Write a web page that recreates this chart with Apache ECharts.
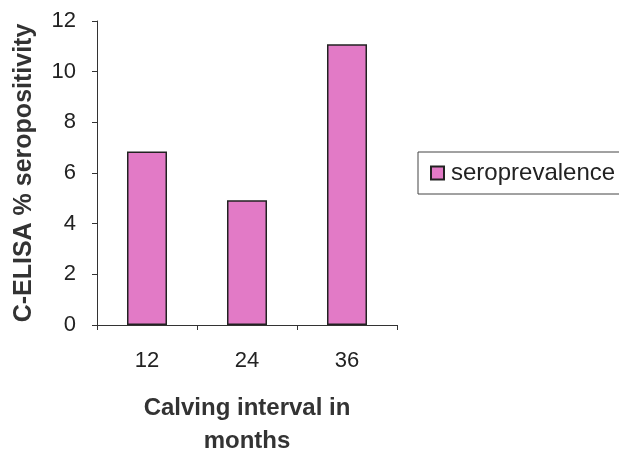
<!DOCTYPE html>
<html>
<head>
<meta charset="utf-8">
<script src="https://cdn.jsdelivr.net/npm/echarts@6/dist/echarts.min.js"></script>
<style>html,body{margin:0;padding:0;background:#fff;}#c{width:619px;height:449px;}</style>
</head>
<body>
<div id="c"></div>
<script>
var categories = ['12', '24', '36'];
var seroprevalence = [6.85, 4.92, 11.08];
var seriesName = 'seroprevalence';
var yAxisTitle = 'C-ELISA % seropositivity';
var xAxisTitle = 'Calving interval in\nmonths';

var chart = echarts.init(document.getElementById('c'));
var txt = '#222';
chart.setOption({
  animation: false,
  backgroundColor: '#fff',
  grid: { left: 97, top: 21, right: 222, bottom: 124, containLabel: false, outerBoundsMode: 'none' },
  legend: {
    data: [seriesName],
    left: 418, top: 152,
    orient: 'vertical',
    itemWidth: 13, itemHeight: 13, itemGap: 0,
    padding: [9, 30, 9, 12],
    borderColor: '#444', borderWidth: 1,
    icon: 'rect',
    textStyle: { fontFamily: 'Liberation Sans, Arial', fontSize: 24, color: txt, lineHeight: 23, padding: [0, 0, 0, 2] }
  },
  xAxis: {
    type: 'category',
    data: categories,
    axisLine: { lineStyle: { color: '#333', width: 1 } },
    axisTick: { show: true, length: 5, alignWithLabel: false, lineStyle: { color: '#333' } },
    axisLabel: { fontFamily: 'Liberation Sans, Arial', fontSize: 22, color: txt, margin: 25 },
    name: xAxisTitle,
    nameLocation: 'middle',
    nameGap: 67,
    nameTextStyle: { fontFamily: 'Liberation Sans, Arial', fontWeight: 'bold', fontSize: 24, color: '#333', lineHeight: 33 }
  },
  yAxis: {
    type: 'value',
    min: 0, max: 12, interval: 2,
    axisLine: { show: true, lineStyle: { color: '#333', width: 1 } },
    axisTick: { show: true, length: 5, lineStyle: { color: '#333' } },
    splitLine: { show: false },
    axisLabel: { fontFamily: 'Liberation Sans, Arial', fontSize: 22, color: txt, margin: 21 },
    name: yAxisTitle,
    nameLocation: 'middle',
    nameGap: 60,
    nameTextStyle: { fontFamily: 'Liberation Sans, Arial', fontWeight: 'bold', fontSize: 25, color: '#333' }
  },
  series: [{
    name: seriesName,
    type: 'bar',
    data: seroprevalence,
    barWidth: 40,
    itemStyle: { color: '#e27ac6', borderColor: '#222', borderWidth: 1.5 }
  }]
});
</script>
</body>
</html>
